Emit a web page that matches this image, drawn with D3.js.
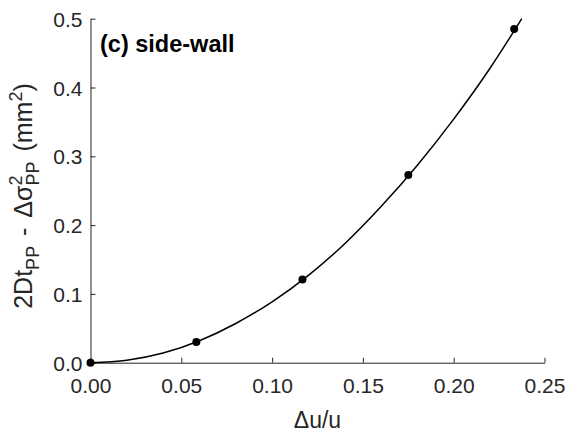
<!DOCTYPE html>
<html lang="en">
<head>
  <meta charset="UTF-8">
  <title>(c) side-wall</title>
  <script src="https://d3js.org/d3.v7.min.js"></script>
  <style>
    body {
      background: #fff;
      margin: 0;
    }
    text {
      font-family: 'Liberation Sans', Arial, Helvetica, sans-serif;
      fill: #262626;
    }
    .tick text {
      font-size: 21px;
    }
    .title {
      font-size: 23.5px;
      font-weight: bold;
      fill: #000;
    }
    .label {
      font-size: 23px;
    }
  </style>
</head>
<body>
  <script>
    // measured points
    var du = [0, 0.0583, 0.1167, 0.175, 0.2333];
    var dt = [0, 0.030, 0.121, 0.273, 0.485];

    // fitted curve
    var fitX = [0, 0.02, 0.04, 0.06, 0.08, 0.10, 0.12, 0.14, 0.16, 0.18, 0.20, 0.22, 0.2375];
    var fitY = [0, 0.0035, 0.014, 0.032, 0.057, 0.0885, 0.127, 0.173, 0.227, 0.287, 0.354, 0.428, 0.50];

    var xTicks = [0, 0.05, 0.10, 0.15, 0.20, 0.25];
    var yTicks = [0, 0.1, 0.2, 0.3, 0.4, 0.5];

    var width = 568, height = 438;
    var margin = { top: 18.7, right: 23.5, bottom: 75.3, left: 90.5 };

    var svg = d3.select("body").append("svg")
      .attr("width", width)
      .attr("height", height);

    var x = d3.scaleLinear()
      .domain([0, 0.25])
      .range([margin.left, width - margin.right]);

    var y = d3.scaleLinear()
      .domain([0, 0.5])
      .range([height - margin.bottom, margin.top]);

    var xAxis = svg.append("g")
      .attr("transform", "translate(0," + y(0) + ")")
      .call(d3.axisBottom(x)
        .tickValues(xTicks)
        .tickFormat(d3.format(".2f"))
        .tickSizeInner(-5)
        .tickSizeOuter(0)
        .tickPadding(15));

    var yAxis = svg.append("g")
      .attr("transform", "translate(" + x(0) + ",0)")
      .call(d3.axisLeft(y)
        .tickValues(yTicks)
        .tickFormat(d3.format(".1f"))
        .tickSizeInner(-5)
        .tickSizeOuter(0)
        .tickPadding(8));

    svg.selectAll(".domain, .tick line")
      .attr("stroke", "#262626");
    svg.selectAll(".tick text")
      .attr("fill", "#262626");
    yAxis.selectAll(".tick text").attr("dy", "0.36em");

    var line = d3.line()
      .x(function(d, i) { return x(fitX[i]); })
      .y(function(d) { return y(d); })
      .curve(d3.curveMonotoneX);

    svg.append("path")
      .datum(fitY)
      .attr("fill", "none")
      .attr("stroke", "#000")
      .attr("stroke-width", 1.5)
      .attr("d", line);

    svg.selectAll(".dot")
      .data(du)
      .enter()
      .append("circle")
      .attr("class", "dot")
      .attr("cx", function(d) { return x(d); })
      .attr("cy", function(d, i) { return y(dt[i]); })
      .attr("r", 4)
      .attr("fill", "#000");

    svg.append("text")
      .attr("class", "title")
      .attr("x", 100)
      .attr("y", 52)
      .text("(c) side-wall");

    svg.append("text")
      .attr("class", "label")
      .attr("x", (x(0) + x(0.25)) / 2)
      .attr("y", 428)
      .attr("text-anchor", "middle")
      .text("\u0394u/u");

    // y label with sub/superscripts
    var yl = svg.append("text")
      .attr("class", "label")
      .style("font-size", "25px")
      .attr("transform", "translate(32,196) rotate(-90)");

    yl.append("tspan").text("2Dt");
    yl.append("tspan").style("font-size", "18px").attr("dy", 7).text("PP");
    yl.append("tspan").attr("dy", -7).attr("dx", 3).text(" - ");
    yl.append("tspan").attr("dx", 3).text("\u0394\u03c3");
    var sup = yl.append("tspan").style("font-size", "18px").attr("dy", -10).text("2");
    var supW = sup.node().getComputedTextLength();
    yl.append("tspan").style("font-size", "18px").attr("dx", -supW).attr("dy", 17).text("PP");
    yl.append("tspan").attr("dy", -7).attr("dx", 3).text(" (mm");
    yl.append("tspan").style("font-size", "18px").attr("dy", -10).text("2");
    yl.append("tspan").attr("dy", 10).text(")");

    var bb = yl.node().getBBox();
    yl.attr("x", -bb.width / 2);
  </script>
</body>
</html>
